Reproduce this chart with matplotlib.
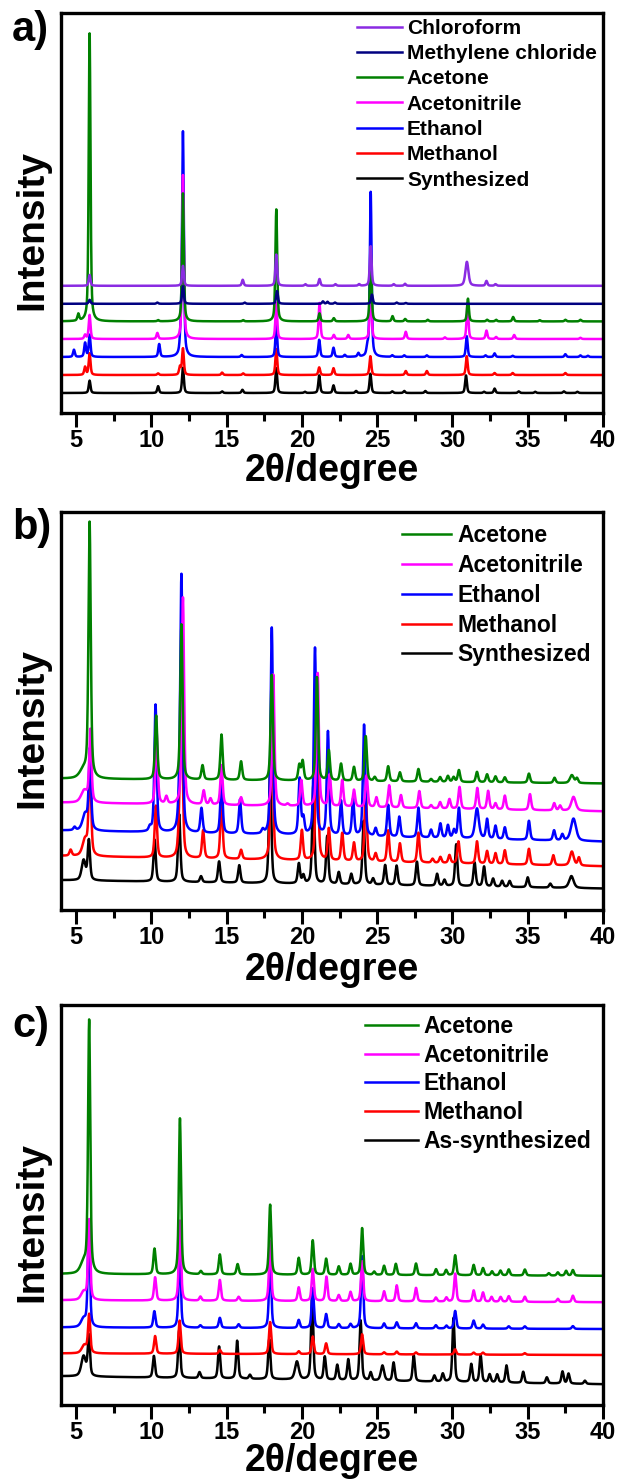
import numpy as np
import matplotlib
matplotlib.use('Agg')
import matplotlib.pyplot as plt
from matplotlib.ticker import MultipleLocator

plt.rcParams['font.family'] = ['Liberation Sans', 'DejaVu Sans']
plt.rcParams['font.weight'] = 'bold'

W, H = 617, 1479
X_MIN, X_MAX = 4, 40

# --- panel a: peak lists (2theta, height above baseline[, fwhm]) ---
A_LABELS = ['Synthesized', 'Methanol', 'Ethanol', 'Acetonitrile', 'Acetone',
            'Methylene chloride', 'Chloroform']
A_COLORS = ['black', '#ff0000', '#0000ff', '#ff00ff', '#008000', '#000080', '#8a2be2']
A_BASE = [(5.0, 5.0), (9.5, 9.5), (14.0, 14.0), (18.5, 18.5), (22.9, 22.9),
          (27.3, 27.3), (31.8, 31.8)]
A_SYNTH = [(5.9, 3.1), (10.45, 1.7), (12.1, 6.3), (14.7, 0.4), (16.05, 0.8), (18.3, 6.2),
           (20.2, 0.3), (21.15, 4.4), (22.1, 1.9), (23.6, 0.5), (24.55, 4.8), (26.0, 0.4),
           (26.8, 0.5), (28.2, 0.5), (30.9, 4.4), (32.1, 0.3), (32.8, 1.1), (34.4, 0.4),
           (35.5, 0.3), (37.4, 0.4), (38.3, 0.3)]
A_METHANOL = [(5.6, 2.0), (5.9, 5.4), (10.45, 0.4), (11.9, 2.0), (12.1, 6.6), (14.7, 0.6),
              (16.1, 0.4), (18.3, 6.5), (21.15, 1.9), (22.1, 1.7), (24.55, 4.7), (26.9, 1.0),
              (28.3, 1.0), (30.95, 4.7), (32.8, 0.5), (34.0, 0.5), (37.5, 0.5)]
A_ETHANOL = [(4.86, 1.8), (5.6, 3.5), (5.9, 5.5), (10.52, 3.2), (11.95, 4.0), (12.1, 56),
             (16.0, 0.5), (18.3, 8.0), (21.15, 4.3), (22.1, 2.3), (22.85, 0.5), (23.75, 0.9),
             (24.35, 2.0), (24.57, 41.2), (26.0, 0.4), (26.8, 0.4), (28.3, 0.4), (30.95, 5.2),
             (32.2, 0.4), (32.8, 0.9), (34.0, 0.3), (37.5, 0.7), (38.5, 0.4), (39.0, 0.3)]
A_ACETONITRILE = [(5.6, 1.0), (5.9, 6.0), (10.4, 1.5), (12.1, 41), (18.3, 9.0), (21.17, 9.0),
                  (22.12, 1.0), (23.08, 1.0), (24.57, 14), (26.9, 1.8), (29.5, 0.4),
                  (31.0, 9.0), (32.26, 2.1), (32.9, 0.5), (34.1, 1.0), (38.5, 0.3)]
A_ACETONE = [(5.15, 1.7), (5.9, 72), (10.45, 0.3), (12.1, 32), (16.1, 0.3), (18.3, 28),
             (21.17, 2.0), (22.12, 0.8), (24.57, 17), (26.02, 1.3), (26.86, 0.6),
             (28.36, 0.4), (31.03, 5.7), (32.3, 0.4), (32.9, 0.4), (34.03, 1.1),
             (35.8, 0.3), (37.5, 0.4), (38.5, 0.4)]
A_METHYLENE = [(5.9, 1.0), (10.4, 0.3), (12.1, 4.4), (16.2, 0.3), (18.35, 3.2), (21.4, 0.6),
               (21.7, 0.5), (22.2, 0.3), (24.65, 2.3), (26.3, 0.3), (26.9, 0.2)]
A_CHLOROFORM = [(5.9, 2.7), (12.1, 5.0), (16.07, 1.5), (18.3, 7.8), (20.23, 0.4),
                (21.17, 1.7), (22.23, 0.4), (23.8, 0.4), (24.57, 9.9), (26.1, 0.4),
                (26.85, 0.5), (30.96, 6.0, 0.24), (32.26, 1.2), (32.86, 0.4)]
A_PEAKS = [A_SYNTH, A_METHANOL, A_ETHANOL, A_ACETONITRILE, A_ACETONE, A_METHYLENE, A_CHLOROFORM]

# --- panel b ---
B_LABELS = ['Synthesized', 'Methanol', 'Ethanol', 'Acetonitrile', 'Acetone']
B_COLORS = ['black', '#ff0000', '#0000ff', '#ff00ff', '#008000']
B_BASE = [(7.5, 5.4), (13.6, 11.0), (20.0, 17.2), (27.0, 24.8), (33.0, 31.8)]
B_SYNTH = [(5.5, 5.0, 0.3), (5.85, 10), (10.22, 10.5), (11.85, 17), (13.3, 1.5), (14.5, 5.3),
           (15.84, 4.4), (17.89, 30), (19.8, 5.0), (20.1, 2.0), (20.76, 25), (21.68, 12),
           (22.45, 3.0), (23.28, 2.6), (24.1, 16), (24.73, 1.5), (25.53, 5.0), (26.29, 4.9),
           (27.64, 6.0), (28.98, 3.0), (29.47, 1.5), (30.25, 10.5), (31.47, 6.0), (32.1, 5.0),
           (32.7, 2.0), (33.3, 1.5), (33.8, 1.5), (35.0, 2.5), (36.5, 1.0), (37.9, 3.0, 0.35)]
B_METHANOL = [(4.64, 1.5), (5.6, 4.0, 0.4), (5.92, 25), (10.3, 13), (11.85, 5.0), (12.0, 45),
              (13.44, 7.0), (14.66, 15), (15.96, 2.3), (18.0, 45), (20.0, 7.5), (21.0, 40),
              (21.79, 8.0), (22.68, 7.0), (23.46, 4.6), (24.24, 18), (24.9, 2.0), (25.73, 7.9),
              (26.51, 4.7), (27.74, 7.5), (28.68, 1.0), (29.2, 1.5), (29.8, 2.0), (30.4, 5.5),
              (31.63, 5.6), (32.3, 3.2), (32.86, 2.7), (33.48, 3.5), (35.08, 4.0), (36.7, 2.5),
              (37.93, 3.5, 0.3), (38.4, 2.0)]
B_ETHANOL = [(4.9, 0.8), (5.6, 4.0, 0.4), (5.92, 20), (9.9, 1.0), (10.28, 32), (11.85, 5.0),
             (12.0, 64), (13.33, 6.2), (14.66, 14), (15.89, 8.6), (17.4, 1.0), (18.0, 52),
             (19.85, 14), (20.1, 4.0), (20.87, 47), (21.73, 26), (22.6, 8.7), (23.4, 9.2),
             (24.13, 28), (24.9, 2.0), (25.73, 8.0), (26.47, 5.1), (27.74, 7.5), (28.58, 2.0),
             (29.2, 3.6), (29.7, 3.2), (30.1, 2.0), (30.43, 7.6), (31.63, 7.6, 0.3), (32.3, 4.9),
             (32.86, 3.3), (33.48, 3.0), (35.08, 4.8), (36.75, 2.5), (37.3, 1.5),
             (38.04, 5.6, 0.4)]
B_ACETONITRILE = [(5.55, 3.0, 0.5), (5.95, 18), (10.35, 18), (11.0, 1.8), (12.1, 52),
                  (13.48, 3.5), (13.93, 1.5), (14.66, 10), (15.96, 2.0), (18.1, 33),
                  (19.05, 0.5), (19.96, 6.5), (21.05, 33.5), (21.85, 8.0), (22.68, 6.7),
                  (23.46, 4.3), (24.3, 8.0), (24.95, 2.5), (25.8, 5.6), (26.58, 3.2),
                  (27.8, 4.3), (28.58, 0.8), (29.18, 1.6), (29.8, 2.4), (30.47, 5.5),
                  (31.65, 5.3), (32.37, 4.6), (32.86, 1.5), (33.48, 3.5), (35.15, 4.0),
                  (36.76, 1.8), (37.15, 1.2), (38.04, 3.5, 0.35)]
B_ACETONE = [(5.5, 2.0, 0.6), (5.9, 64), (10.32, 16), (12.0, 39), (13.4, 3.6), (14.66, 11.4),
             (15.96, 4.7), (18.0, 26.5), (19.83, 3.8), (20.05, 4.8), (21.0, 26), (21.79, 7.6),
             (22.6, 4.3), (23.46, 3.5), (24.24, 11.3), (24.84, 1.0), (25.73, 3.8), (26.51, 2.3),
             (27.74, 3.2), (28.58, 0.7), (29.18, 1.2), (29.7, 1.5), (30.08, 1.2), (30.43, 3.0),
             (31.63, 2.6), (32.3, 2.0), (32.86, 1.5), (33.48, 1.3), (35.08, 2.3), (36.78, 1.3),
             (37.93, 2.0, 0.3), (38.27, 1.2)]
B_PEAKS = [B_SYNTH, B_METHANOL, B_ETHANOL, B_ACETONITRILE, B_ACETONE]

# --- panel c ---
C_LABELS = ['As-synthesized', 'Methanol', 'Ethanol', 'Acetonitrile', 'Acetone']
C_COLORS = B_COLORS
C_BASE = [(7.2, 5.2), (12.9, 12.5), (19.4, 19.0), (26.2, 25.7), (32.75, 32.3)]
C_SYNTH = [(5.5, 5.0, 0.35), (5.85, 10), (10.17, 5.4), (11.85, 12), (13.2, 1.5), (14.5, 8.0),
           (15.7, 9.5), (16.55, 1.0), (17.83, 10), (19.67, 4.5, 0.3), (20.68, 21), (21.52, 5.8),
           (22.35, 3.8), (23.08, 5.2), (23.9, 15), (24.57, 2.0), (25.35, 3.8, 0.25),
           (26.09, 4.6), (27.43, 6.5), (28.8, 1.5), (29.36, 2.0), (30.07, 16), (31.25, 4.5),
           (31.87, 6.8), (32.47, 2.0), (32.97, 2.0), (33.59, 4.3), (34.7, 2.8), (36.27, 1.5),
           (37.31, 3.0), (37.71, 2.5), (38.8, 0.8)]
C_METHANOL = [(5.55, 2.0, 0.4), (5.87, 9.5), (10.25, 4.4), (11.88, 8.3), (14.55, 1.0),
              (17.89, 8.0), (19.79, 0.7), (20.72, 4.4), (21.61, 2.7), (24.0, 5.0),
              (25.46, 0.5), (26.3, 0.7), (27.58, 0.5), (30.18, 1.3), (31.41, 0.5),
              (32.03, 0.5), (34.8, 0.4)]
C_ETHANOL = [(5.5, 2.0, 0.4), (5.85, 25), (10.2, 4.1), (11.88, 20), (13.26, 0.6), (14.55, 2.5),
             (15.8, 0.9), (17.89, 18), (19.79, 2.0), (20.72, 10), (21.61, 3.5), (22.45, 1.0),
             (23.23, 1.0), (24.0, 18), (25.46, 1.2), (26.3, 1.5), (27.58, 1.3), (28.9, 0.8),
             (29.6, 0.7), (30.18, 4.4), (31.41, 2.0), (32.03, 1.0), (33.74, 0.6), (34.81, 0.6),
             (38.0, 0.7)]
C_ACETONITRILE = [(5.5, 2.0, 0.4), (5.87, 20), (10.25, 5.8), (11.9, 20), (13.26, 1.0),
                  (14.55, 5.2), (15.8, 1.0), (17.89, 15), (19.79, 3.4), (20.72, 8.0),
                  (21.63, 6.1), (22.45, 1.5), (23.23, 2.3), (24.0, 10), (25.46, 2.5),
                  (26.3, 4.0), (27.58, 3.4), (28.9, 1.0), (29.6, 1.0), (30.18, 7.0),
                  (31.41, 2.8), (32.03, 2.3), (32.6, 1.2), (33.2, 1.2), (33.74, 1.4),
                  (34.81, 1.3), (37.0, 0.8), (38.0, 1.6)]
C_ACETONE = [(5.5, 2.5, 0.5), (5.87, 63), (10.21, 6.4), (11.9, 39), (13.29, 0.8), (14.55, 5.0),
             (15.73, 2.6), (17.89, 17.5), (19.79, 4.2), (20.72, 8.6), (21.61, 4.0),
             (22.45, 2.1), (23.23, 2.75), (24.0, 11.7), (24.8, 0.8), (25.46, 2.3), (26.24, 2.8),
             (27.58, 2.9), (28.91, 1.5), (29.58, 1.3), (30.18, 5.0), (31.41, 2.6), (32.03, 1.8),
             (32.63, 1.0), (33.19, 1.2), (33.74, 1.5), (34.81, 1.5), (36.4, 0.6), (37.0, 0.8),
             (37.55, 1.2), (38.0, 1.4)]
C_PEAKS = [C_SYNTH, C_METHANOL, C_ETHANOL, C_ACETONITRILE, C_ACETONE]

X_TICKS = [5, 10, 15, 20, 25, 30, 35, 40]


def pattern(x, base, peaks, fwhm):
    """
    Diffraction pattern from the peak list (pseudo-Voigt peaks on a straight background).
    """
    y = base[0] + (base[1] - base[0]) * (x - X_MIN) / (X_MAX - X_MIN)
    for p in peaks:
        w = p[2] if len(p) > 2 else fwhm
        d = (x - p[0]) / (w / 2)
        y = y + p[1] * (0.5 / (1 + d ** 2) + 0.5 * np.exp(-np.log(2) * d ** 2))
    return y


def draw_panel(fig, box, letter, labels, colors, bases, peaks, fwhm, leg):
    left, top, right, bottom = box
    ax = fig.add_axes([left / W, 1 - bottom / H, (right - left) / W, (bottom - top) / H])
    x = np.linspace(X_MIN, X_MAX, 3601)
    for lab, col, base, pk in zip(labels, colors, bases, peaks):
        ax.plot(x, pattern(x, base, pk, fwhm), color=col, lw=1.8, label=lab)

    ax.set_xlim(X_MIN, X_MAX)
    ax.set_ylim(0, 100)
    ax.set_xticks(X_TICKS)
    ax.xaxis.set_minor_locator(MultipleLocator(2.5))
    ax.set_yticks([])
    ax.tick_params(axis='x', which='major', direction='out', length=10, width=2.2,
                   labelsize=17, pad=1.5)
    ax.tick_params(axis='x', which='minor', direction='out', length=6, width=2.2)
    for s in ax.spines.values():
        s.set_linewidth(2.4)

    ax.set_xlabel('2θ/degree', fontsize=27, fontweight='bold')
    ax.xaxis.label.set_va('center')
    ax.xaxis.set_label_coords(0.5, -leg['xlab'])
    ax.set_ylabel('Intensity', fontsize=28, fontweight='bold')
    ax.yaxis.label.set_va('center')
    ax.yaxis.set_label_coords(-0.052, 0.457)

    h, l = ax.get_legend_handles_labels()
    ax.legend(h[::-1], l[::-1], loc='upper left', bbox_to_anchor=leg['anchor'],
              frameon=False, handlelength=leg['hl'],
              handletextpad=leg['pad'], labelspacing=leg['space'], borderpad=0,
              borderaxespad=0, prop={'weight': 'bold', 'size': leg['size']})

    fig.text(12 / W, 1 - leg['letter_y'] / H, letter, fontsize=30, fontweight='bold',
             ha='left', va='center')
    return ax


def main():
    fig = plt.figure(figsize=(W / 100, H / 100), dpi=100)

    draw_panel(fig, (61, 13, 603, 413), 'a)', A_LABELS, A_COLORS, A_BASE, A_PEAKS, 0.14,
               {'anchor': (0.546, 0.985), 'size': 15, 'hl': 2.16, 'pad': 0.24,
                'space': 0.3, 'xlab': 0.145, 'letter_y': 30})
    draw_panel(fig, (61, 512, 603, 910), 'b)', B_LABELS, B_COLORS, B_BASE, B_PEAKS, 0.18,
               {'anchor': (0.629, 0.97), 'size': 16.5, 'hl': 2.14, 'pad': 0.3,
                'space': 0.3, 'xlab': 0.152, 'letter_y': 528})
    draw_panel(fig, (61, 1005, 603, 1405), 'c)', C_LABELS, C_COLORS, C_BASE, C_PEAKS, 0.17,
               {'anchor': (0.561, 0.975), 'size': 16.5, 'hl': 2.3, 'pad': 0.26,
                'space': 0.25, 'xlab': 0.14, 'letter_y': 1026})

    fig.savefig('out.png', dpi=100)


if __name__ == "__main__":
    main()
